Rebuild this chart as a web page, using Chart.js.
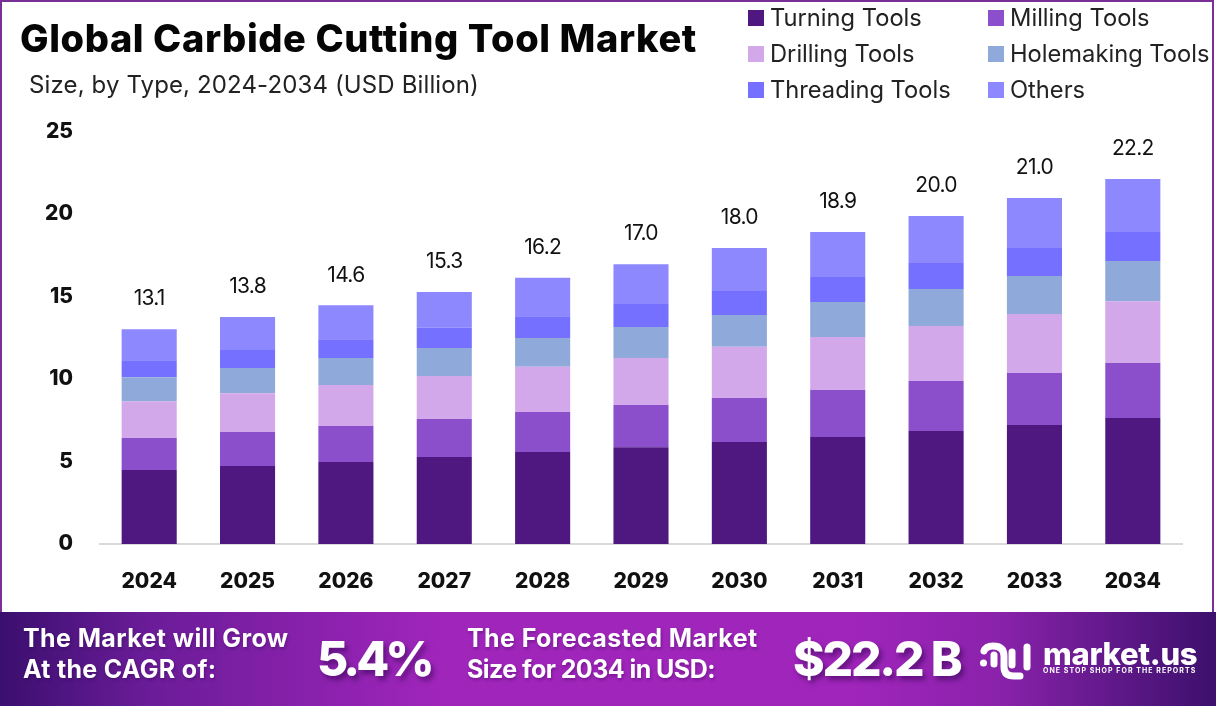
<!DOCTYPE html>
<html>
<head>
<meta charset="utf-8">
<title>Global Carbide Cutting Tool Market</title>
<script src="https://cdn.jsdelivr.net/npm/chart.js@4"></script>
<style>
    * { box-sizing: border-box; }
    html, body { margin: 0; padding: 0; background: #fff; }
    #page { position: relative; width: 1216px; height: 706px; overflow: hidden; font-family: Inter, sans-serif; color: #111; background: #fff; }
    #page canvas { position: absolute; left: 0; top: 0; }
    #frame { position: absolute; left: 0; top: 0; width: 1214px; height: 620px; border: 2px solid #7a2f97; }
    .abs { position: absolute; white-space: nowrap; line-height: 1; }
    #title { left: 20px; top: 19px; font-size: 38px; font-weight: 800; color: #050505; letter-spacing: 0.6px; }
    #subtitle { left: 29px; top: 73px; font-size: 24px; font-weight: 400; color: #222; letter-spacing: 0.13px; }
    .swatch { position: absolute; width: 16px; height: 16px; }
    .legendtext { position: absolute; white-space: nowrap; line-height: 1; font-size: 23.7px; color: #222; }
    #banner { position: absolute; left: 0; top: 612px; width: 1216px; height: 94px;
        background: linear-gradient(90deg, #3a0f6e 0%, #6a1c98 12%, #a025bb 36%, #a025bb 70%, #8a22ab 82%, #3c106c 100%); }
    .bannertext { color: #fff; font-weight: 700; font-size: 25px; letter-spacing: 0.4px; text-shadow: 1px 2px 3px rgba(40,0,70,.35); }
    .big { color: #fff; font-weight: 800; font-size: 48px; text-shadow: 3px 4px 5px rgba(40,0,70,.5); }
</style>
</head>
<body>
<div id="page">
    <canvas id="chart" width="1216" height="706"></canvas>
    <div id="frame"></div>
    <div id="title" class="abs">Global Carbide Cutting Tool Market</div>
    <div id="subtitle" class="abs">Size, by Type, 2024-2034 (USD Billion)</div>
    <div id="legend"></div>
    <div id="banner"></div>
    <div class="abs bannertext" style="left:23px;top:626px">The Market will Grow</div>
    <div class="abs bannertext" style="left:23px;top:657px;letter-spacing:0.3px">At the CAGR of:</div>
    <div class="abs big" style="left:317px;top:635px;letter-spacing:-4px">5.4%</div>
    <div class="abs bannertext" style="left:467px;top:626px">The Forecasted Market</div>
    <div class="abs bannertext" style="left:467px;top:657px;letter-spacing:-0.55px">Size for 2034 in USD:</div>
    <div class="abs big" style="left:793px;top:635px;letter-spacing:-2.2px">$22.2 B</div>
    <svg class="abs" style="left:978px;top:640px" width="56" height="42" viewBox="0 0 56 42" fill="none" stroke="#fff" stroke-linecap="round" stroke-width="7">
        <path d="M5.5 23v0"/>
        <path d="M6 11Q8 6 15 6Q26 6 26 16V27Q26 36 36 36H42"/>
        <path d="M16 15V24"/>
        <path d="M34 12V25"/>
        <path d="M49 7V27"/>
    </svg>
    <div class="abs" style="left:1043px;top:638px;font-size:31px;font-weight:800;color:#fff;letter-spacing:-0.3px">market.us</div>
    <div class="abs" style="left:1043px;top:667px;font-size:7px;font-weight:700;color:#fff;letter-spacing:1.05px">ONE STOP SHOP FOR THE REPORTS</div>
</div>
<script>
const years = ["2024", "2025", "2026", "2027", "2028", "2029", "2030", "2031", "2032", "2033", "2034"];
const totals = ["13.1", "13.8", "14.6", "15.3", "16.2", "17.0", "18.0", "18.9", "20.0", "21.0", "22.2"];
const yTicks = [0, 5, 10, 15, 20, 25];

const turning = [4.48, 4.73, 4.97, 5.27, 5.58, 5.86, 6.18, 6.48, 6.85, 7.21, 7.64];
const milling = [1.94, 2.06, 2.18, 2.30, 2.42, 2.56, 2.67, 2.85, 3.03, 3.15, 3.33];
const drilling = [2.22, 2.35, 2.48, 2.61, 2.75, 2.85, 3.11, 3.21, 3.33, 3.58, 3.74];
const holemaking = [1.47, 1.53, 1.65, 1.70, 1.74, 1.88, 1.92, 2.12, 2.24, 2.30, 2.44];
const threading = [1.03, 1.09, 1.13, 1.23, 1.32, 1.39, 1.45, 1.52, 1.58, 1.70, 1.76];
const others = [1.88, 2.00, 2.06, 2.16, 2.32, 2.42, 2.61, 2.73, 2.85, 3.03, 3.21];

const seriesNames = ["Turning Tools", "Milling Tools", "Drilling Tools", "Holemaking Tools", "Threading Tools", "Others"];
const seriesValues = [turning, milling, drilling, holemaking, threading, others];
const seriesColors = ["#4f1780", "#8c4fcb", "#d2a8ea", "#8fa9da", "#7570ff", "#8e88ff"];

// legend is two columns in the reference, easier as plain html
const legendEl = document.querySelector("#legend");
seriesNames.forEach((name, i) => {
    const left = i % 2 == 0 ? 748 : 988;
    const textLeft = i % 2 == 0 ? 770 : 1010;
    const top = 10 + Math.floor(i / 2) * 36;
    const swatch = document.createElement("div");
    swatch.className = "swatch";
    swatch.style.cssText = "left:" + left + "px;top:" + top + "px;background:" + seriesColors[i];
    const label = document.createElement("div");
    label.className = "legendtext";
    label.style.cssText = "left:" + textLeft + "px;top:" + (top - 4) + "px";
    label.textContent = name;
    legendEl.append(swatch, label);
});

// totals sit a fixed distance above each stack
const totalLabels = {
    id: "totalLabels",
    afterDatasetsDraw(chart) {
        const {ctx, scales} = chart;
        ctx.save();
        ctx.font = "400 21px Inter";
        ctx.fillStyle = "#111";
        ctx.textAlign = "center";
        ctx.textBaseline = "middle";
        ctx.letterSpacing = "-0.7px";
        years.forEach((year, i) => {
            const stackTop = seriesValues.reduce((sum, values) => sum + values[i], 0);
            ctx.fillText(totals[i], scales.x.getPixelForValue(i), scales.y.getPixelForValue(stackTop) - 30);
        });
        ctx.restore();
    }
};

new Chart(document.querySelector("#chart"), {
    type: "bar",
    data: {
        labels: years,
        datasets: seriesNames.map((name, i) => ({
            label: name,
            data: seriesValues[i],
            backgroundColor: seriesColors[i],
            barPercentage: 0.56,
            categoryPercentage: 1
        }))
    },
    options: {
        responsive: false,
        animation: false,
        devicePixelRatio: 1,
        layout: {
            padding: {left: 0, right: 34, top: 131.5, bottom: 0}
        },
        plugins: {
            legend: {display: false},
            title: {display: false},
            tooltip: {enabled: false}
        },
        scales: {
            x: {
                stacked: true,
                afterFit: (scale) => { scale.height = 162; },
                grid: {display: false},
                border: {color: "#d9d9d9", width: 2},
                ticks: {
                    color: "#111",
                    padding: 17,
                    font: {family: "Inter", size: 21, weight: "800"}
                }
            },
            y: {
                stacked: true,
                min: 0,
                max: 25,
                afterFit: (scale) => { scale.width = 100; },
                afterBuildTicks: (scale) => { scale.ticks = yTicks.map((value) => ({value: value})); },
                grid: {display: false, drawTicks: false},
                border: {display: false},
                ticks: {
                    color: "#111",
                    padding: 27,
                    font: {family: "Inter", size: 21, weight: "800"}
                }
            }
        }
    },
    plugins: [totalLabels]
});
</script>
</body>
</html>
